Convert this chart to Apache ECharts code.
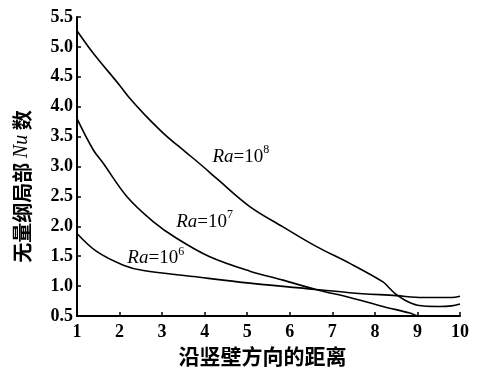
<!DOCTYPE html>
<html>
<head>
<meta charset="utf-8">
<script src="https://cdn.jsdelivr.net/npm/echarts@6/dist/echarts.min.js"></script>
<style>html,body{margin:0;padding:0;background:#fff}#c{width:486px;height:374px}</style>
</head>
<body>
<div id="c"></div>
<script>
var xTicks = [1,2,3,4,5,6,7,8,9,10];
var yTicks = [0.5,1.0,1.5,2.0,2.5,3.0,3.5,4.0,4.5,5.0,5.5];
var ra8 = [[1,5.27],[1.27,5.0],[1.5,4.79],[2.0,4.36],[2.24,4.14],[2.6,3.86],[3.07,3.53],[3.54,3.25],[3.96,3.0],[4.28,2.8],[5.06,2.33],[5.84,1.99],[6.63,1.66],[7.41,1.38],[8.19,1.07],[8.35,0.96],[8.5,0.86],[8.74,0.75],[9.0,0.68],[9.5,0.66],[9.8,0.67],[10,0.70]];
var ra7 = [[1,3.8],[1.38,3.28],[1.62,3.05],[2.17,2.5],[2.79,2.08],[3.34,1.8],[4.12,1.49],[5.06,1.25],[5.84,1.10],[6.63,0.94],[7.41,0.81],[8.19,0.66],[8.82,0.55],[9.05,0.5],[10,0.5]];
var ra6 = [[1,1.88],[1.46,1.58],[2.09,1.35],[2.56,1.26],[3.73,1.16],[5.06,1.05],[6.23,0.97],[7.41,0.89],[8.5,0.84],[9.13,0.81],[9.8,0.81],[10,0.83]];
var labelPoints = [
  {value:[4.85,3.19], exp:'8'},
  {value:[4.0,2.1], exp:'7'},
  {value:[2.85,1.49], exp:'6'}
];
var serif = '"Liberation Serif", "DejaVu Serif", serif';
var cjk = '"Noto Sans CJK SC", sans-serif';
var chart = echarts.init(document.getElementById('c'), null, {renderer:'canvas'});
function lineSeries(d){
  return {type:'line', data:d, smooth:0.35, showSymbol:false, symbol:'none',
    lineStyle:{color:'#000', width:1.6}, silent:true, z:3};
}
chart.setOption({
  animation:false,
  backgroundColor:'#fff',
  grid:{left:77, right:26, top:17, bottom:58, containLabel:false},
  xAxis:{type:'value', min:1, max:10, interval:1,
    name:'沿竖壁方向的距离', nameLocation:'middle', nameGap:28,
    nameTextStyle:{fontFamily:cjk, fontWeight:'bold', fontSize:21, color:'#000', padding:[0,12,0,0]},
    axisLine:{lineStyle:{color:'#000', width:2}},
    axisTick:{inside:true, length:4, lineStyle:{color:'#000', width:1.5}},
    axisLabel:{margin:7, fontFamily:serif, fontWeight:'bold', fontSize:18, color:'#000',
      formatter:function(v){return xTicks.indexOf(v)>=0? String(v):'';}},
    splitLine:{show:false}
  },
  yAxis:{type:'value', min:0.5, max:5.5, interval:0.5,
    name:'{a|无量纲局部 }{b|Nu}{a| 数}', nameLocation:'middle', nameGap:45,
    nameTextStyle:{color:'#000', padding:[0,40,0,0], rich:{
      a:{fontFamily:cjk, fontWeight:'bold', fontSize:20, color:'#000'},
      b:{fontFamily:serif, fontStyle:'italic', fontSize:20, color:'#000'}}},
    axisLine:{show:true, lineStyle:{color:'#000', width:2}},
    axisTick:{show:true, inside:true, length:4, lineStyle:{color:'#000', width:1.5}},
    axisLabel:{margin:4, fontFamily:serif, fontWeight:'bold', fontSize:18, color:'#000',
      formatter:function(v){var t=yTicks.filter(function(y){return Math.abs(y-v)<1e-6;}); return t.length? t[0].toFixed(1):'';}},
    splitLine:{show:false}
  },
  series:[
    lineSeries(ra8), lineSeries(ra7), lineSeries(ra6),
    {type:'scatter', data:labelPoints, symbolSize:0, silent:true, z:5,
      itemStyle:{color:'#000', opacity:1},
      label:{show:true, position:'inside', color:'#000', textBorderWidth:0, opacity:1,
        formatter:function(p){return '{i|Ra}{n|=10}{s|'+p.data.exp+'}';},
        rich:{
          i:{fontFamily:serif, fontStyle:'italic', fontSize:19, color:'#000', textBorderWidth:0, lineHeight:22, verticalAlign:'bottom'},
          n:{fontFamily:serif, fontSize:19, color:'#000', textBorderWidth:0, lineHeight:22, verticalAlign:'bottom'},
          s:{fontFamily:serif, fontSize:12, color:'#000', textBorderWidth:0, lineHeight:22, verticalAlign:'top'}
        }}
    }
  ]
});
</script>
</body>
</html>
